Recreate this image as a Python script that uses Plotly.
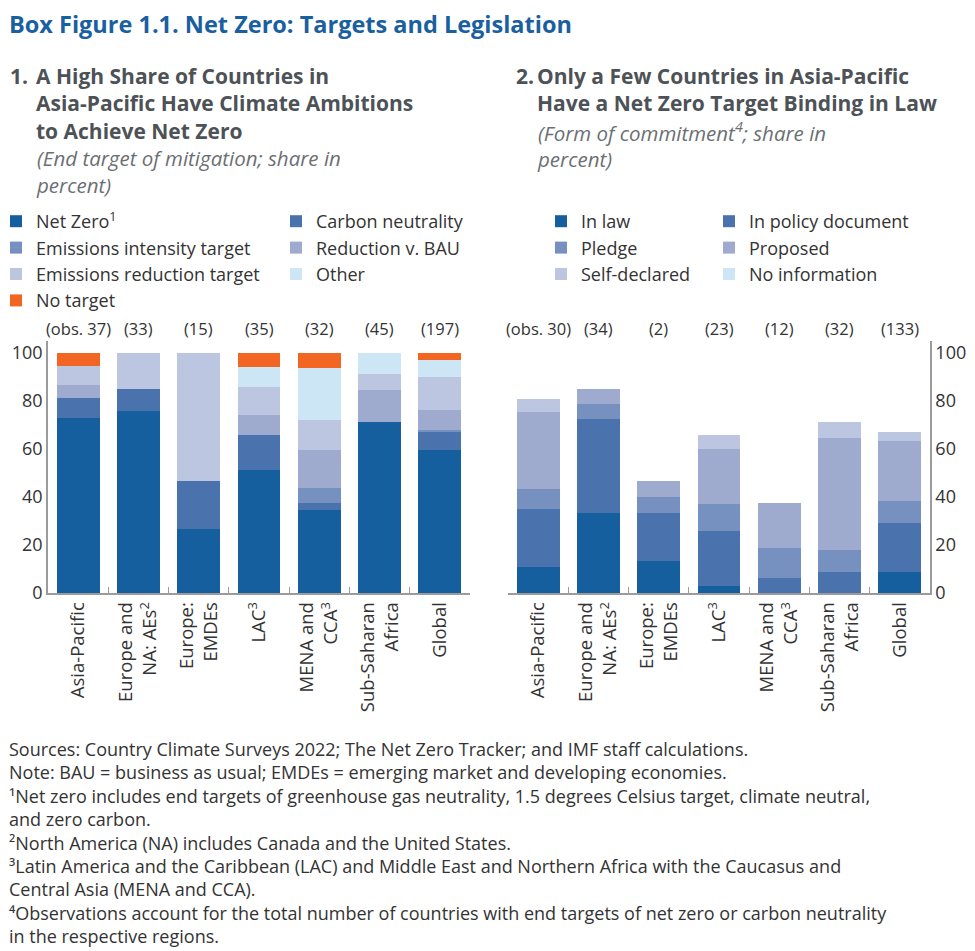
import plotly.graph_objects as go

# The page body adds an 8px margin; the figure is sized and positioned to compensate.
OFF = 8
W, H = 975 - OFF, 951 - OFF
FONT = "Open Sans"

# ---------------- data ----------------
categories = ["Asia-Pacific", "Europe and<br>NA: AEs<sup>2</sup>", "Europe:<br>EMDEs",
              "LAC<sup>3</sup>", "MENA and<br>CCA<sup>3</sup>", "Sub-Saharan<br>Africa", "Global"]

obs_left = ["(obs. 37)", "(33)", "(15)", "(35)", "(32)", "(45)", "(197)"]
obs_right = ["(obs. 30)", "(34)", "(2)", "(23)", "(12)", "(32)", "(133)"]

# Panel 1: end target of mitigation (share in percent)
net_zero = [73.0, 75.8, 26.7, 51.4, 34.4, 71.1, 59.4]
carbon_neutrality = [8.1, 9.1, 20.0, 14.3, 3.1, 0.0, 7.6]
intensity_target = [0.0, 0.0, 0.0, 0.0, 6.3, 0.0, 1.0]
reduction_bau = [5.4, 0.0, 0.0, 8.6, 15.6, 13.3, 8.1]
reduction_target = [8.1, 15.2, 53.3, 11.4, 12.5, 6.7, 13.7]
other = [0.0, 0.0, 0.0, 8.6, 21.9, 8.9, 7.1]
no_target = [5.4, 0.0, 0.0, 5.7, 6.3, 0.0, 3.0]

# Panel 2: form of commitment (share in percent)
in_law = [10.8, 33.3, 13.3, 2.9, 0.0, 0.0, 8.6]
in_policy = [24.3, 39.4, 20.0, 22.9, 6.3, 8.9, 20.5]
pledge = [8.1, 6.1, 6.7, 11.4, 12.5, 8.9, 9.1]
proposed = [32.4, 6.1, 6.7, 22.9, 18.8, 46.7, 25.1]
self_declared = [5.4, 0.0, 0.0, 5.7, 0.0, 6.7, 3.7]
no_information = [0.0, 0.0, 0.0, 0.0, 0.0, 0.0, 0.0]

yticks = [0, 20, 40, 60, 80, 100]

C1, C2, C3, C4, C5, C6 = "#155f9f", "#4a73ad", "#7690c0", "#9eabcf", "#bcc6e0", "#cde6f6"
ORANGE = "#f26522"

left_series = [
    ("Net Zero<sup>1</sup>", net_zero, C1, "legend"),
    ("Carbon neutrality", carbon_neutrality, C2, "legend2"),
    ("Emissions intensity target", intensity_target, C3, "legend"),
    ("Reduction v. BAU", reduction_bau, C4, "legend2"),
    ("Emissions reduction target", reduction_target, C5, "legend"),
    ("Other", other, C6, "legend2"),
    ("No target", no_target, ORANGE, "legend"),
]
right_series = [
    ("In law", in_law, C1, "legend3"),
    ("In policy document", in_policy, C2, "legend4"),
    ("Pledge", pledge, C3, "legend3"),
    ("Proposed", proposed, C4, "legend4"),
    ("Self-declared", self_declared, C5, "legend3"),
    ("No information", no_information, C6, "legend4"),
]

fig = go.Figure()
for name, vals, col, lg in left_series:
    fig.add_trace(go.Bar(x=categories, y=vals, name=name, marker=dict(color=col, line=dict(width=0)),
                         xaxis="x", yaxis="y", legend=lg))
for name, vals, col, lg in right_series:
    fig.add_trace(go.Bar(x=categories, y=vals, name=name, marker=dict(color=col, line=dict(width=0)),
                         xaxis="x2", yaxis="y2", legend=lg))

def px_x(p):
    return (p - OFF) / W

def px_y(p):
    return 1 - (p - OFF) / H

AX = "#9b9b9b"
TXT = "#333333"
ydom = [px_y(593), px_y(341)]

xcommon = dict(type="category", showline=True, linecolor=AX, linewidth=1.5, ticks="inside",
               tickson="boundaries", ticklen=6, tickcolor=AX, tickwidth=1.2, tickangle=-90,
               tickfont=dict(family=FONT, size=18.5, color=TXT), showgrid=False, zeroline=False,
               range=[-0.5, 6.5], automargin=False)
ycommon = dict(range=[0, 105], tickvals=yticks, showgrid=False, zeroline=False, domain=ydom,
               tickfont=dict(family=FONT, size=18, color=TXT), automargin=False)

fig.update_layout(
    width=W, height=H, margin=dict(l=0, r=0, t=0, b=0, autoexpand=False),
    paper_bgcolor="white", plot_bgcolor="white",
    barmode="stack", bargap=0.29, showlegend=True,
    font=dict(family=FONT, color=TXT),
    xaxis=dict(domain=[px_x(48), px_x(470)], anchor="y", **xcommon),
    yaxis=dict(anchor="x", side="left", showline=True, linecolor=AX, linewidth=1.5, ticks="", **ycommon),
    yaxis3=dict(overlaying="y", anchor="x", side="right", showline=False, ticks="inside", ticklen=5,
                tickcolor=AX, tickwidth=1.2, showticklabels=False, **ycommon),
    xaxis2=dict(domain=[px_x(508), px_x(930)], anchor="y2", **xcommon),
    yaxis2=dict(anchor="x2", side="right", showline=True, linecolor=AX, linewidth=1.5, ticks="", **ycommon),
    yaxis4=dict(overlaying="y2", anchor="x2", side="left", showline=False, ticks="inside", ticklen=5,
                tickcolor=AX, tickwidth=1.2, showticklabels=False, **ycommon),
)

lg_common = dict(orientation="v", traceorder="normal", yanchor="top", xanchor="left",
                 font=dict(family=FONT, size=18, color=TXT), bgcolor="rgba(0,0,0,0)",
                 itemclick=False, itemdoubleclick=False, tracegroupgap=0)
LG_TOP = px_y(203)
fig.update_layout(
    legend=dict(x=px_x(-4), y=LG_TOP, **lg_common),
    legend2=dict(x=px_x(276), y=LG_TOP, **lg_common),
    legend3=dict(x=px_x(541), y=LG_TOP, **lg_common),
    legend4=dict(x=px_x(709), y=LG_TOP, **lg_common),
)

ann = []
# obs labels
for i, c in enumerate(categories):
    ann.append(dict(x=c, y=105, xref="x", yref="y", text=obs_left[i], showarrow=False, yanchor="bottom",
                    yshift=-1, font=dict(family=FONT, size=16.5, color=TXT)))
    ann.append(dict(x=c, y=105, xref="x2", yref="y2", text=obs_right[i], showarrow=False, yanchor="bottom",
                    yshift=-1, font=dict(family=FONT, size=16.5, color=TXT)))

# main title
ann.append(dict(x=px_x(7), y=px_y(24), xref="paper", yref="paper", xanchor="left", yanchor="middle",
                text="<b>Box Figure 1.1. Net Zero: Targets and Legislation</b>", showarrow=False,
                font=dict(family=FONT, size=23.5, color="#1a5fa0")))

PT = "#4d5257"
ST = "#6b6f74"
TSIZE = 21
# panel titles
def add_block(xnum, xtxt, num, title, sub, top):
    ann.append(dict(x=px_x(xnum), y=px_y(top), xref="paper", yref="paper", xanchor="left", yanchor="top",
                    text="<b>%s</b>" % num, showarrow=False, font=dict(family=FONT, size=TSIZE, color=PT)))
    ann.append(dict(x=px_x(xtxt), y=px_y(top), xref="paper", yref="paper", xanchor="left", yanchor="top",
                    align="left", text="<b>%s</b>" % title, showarrow=False,
                    font=dict(family=FONT, size=TSIZE, color=PT)))
    nlines = title.count("<br>") + 1
    ann.append(dict(x=px_x(xtxt), y=px_y(top + TSIZE * 1.3 * nlines + 0.5), xref="paper", yref="paper",
                    xanchor="left", yanchor="top", align="left", text="<i>%s</i>" % sub, showarrow=False,
                    font=dict(family=FONT, size=20.5, color=ST)))

add_block(8, 34, "1.", "A High Share of Countries in<br>Asia-Pacific Have Climate Ambitions<br>to Achieve Net Zero",
          "(End target of mitigation; share in<br>percent)", 60)
add_block(514, 535, "2.", "Only a Few Countries in Asia-Pacific<br>Have a Net Zero Target Binding in Law",
          "(Form of commitment<sup>4</sup>; share in<br>percent)", 60)

notes = [
    "Sources: Country Climate Surveys 2022; The Net Zero Tracker; and IMF staff calculations.",
    "Note: BAU = business as usual; EMDEs = emerging market and developing economies.",
    "\u00b9Net zero includes end targets of greenhouse gas neutrality, 1.5 degrees Celsius target, climate neutral,",
    "and zero carbon.",
    "\u00b2North America (NA) includes Canada and the United States.",
    "\u00b3Latin America and the Caribbean (LAC) and Middle East and Northern Africa with the Caucasus and",
    "Central Asia (MENA and CCA).",
    "\u2074Observations account for the total number of countries with end targets of net zero or carbon neutrality",
    "in the respective regions.",
]
ann.append(dict(x=px_x(7), y=px_y(735), xref="paper", yref="paper", xanchor="left", yanchor="top",
                align="left", text="<br>".join(notes), showarrow=False,
                font=dict(family=FONT, size=18, color=TXT)))

fig.update_layout(annotations=ann)
fig.write_html("out.html")
